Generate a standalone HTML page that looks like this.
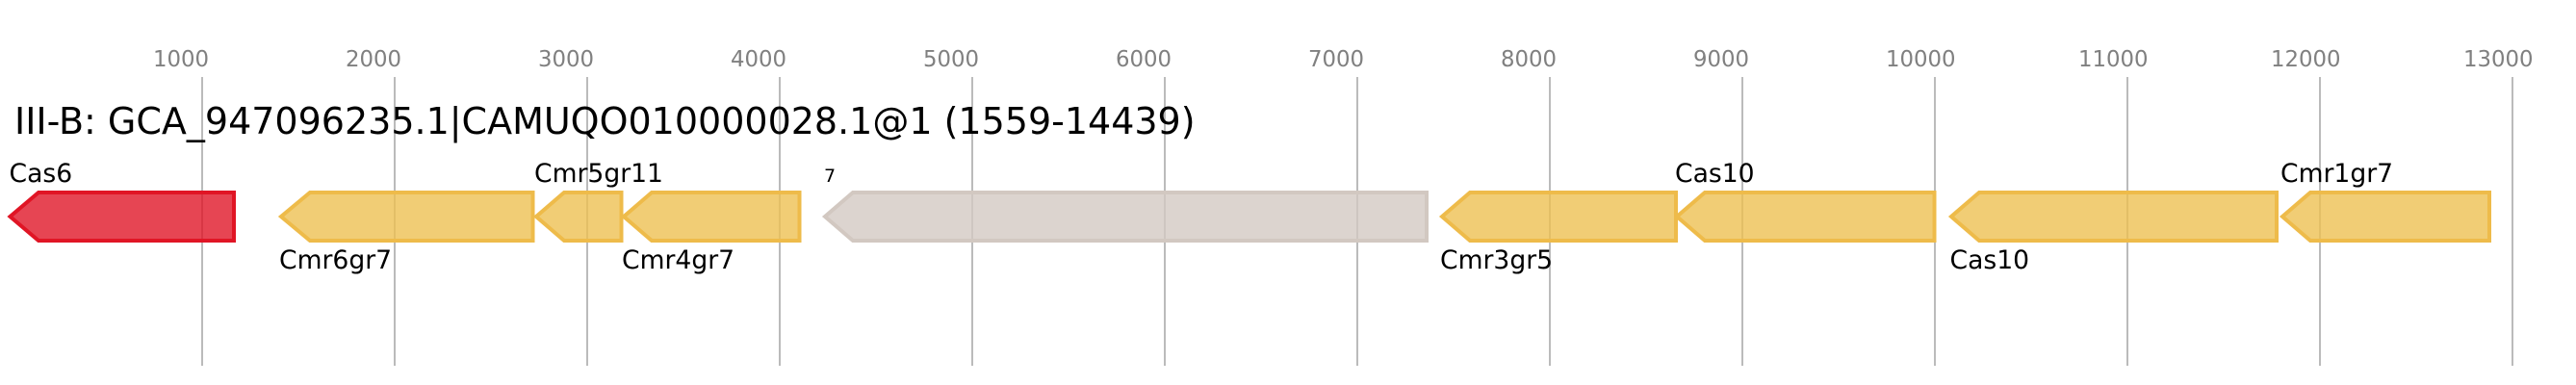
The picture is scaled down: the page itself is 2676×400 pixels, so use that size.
<!DOCTYPE html>
<html>
<head>
<meta charset="utf-8">
<style>
html,body{margin:0;padding:0;background:#fff;}
svg{display:block;}
text{font-family:"DejaVu Sans",sans-serif;}
.t{font-size:22.8px;fill:#808080;}
.l{font-size:26.6px;fill:#000;}
.g{stroke-width:4;stroke-linejoin:miter;stroke-miterlimit:10;}
.y{fill:#eec052;fill-opacity:.8;stroke:#eebb4a;}
.r{fill:#e01628;fill-opacity:.8;stroke:#e01525;}
.n{fill:#d3c9c3;fill-opacity:.8;stroke:#d2c8c1;}
</style>
</head>
<body>
<svg width="2676" height="400" viewBox="0 0 2676 400" xmlns="http://www.w3.org/2000/svg">
<rect width="2676" height="400" fill="#fff"/>
<g stroke="#bbbbbb" stroke-width="2">
<line x1="210" y1="80" x2="210" y2="380"/>
<line x1="410" y1="80" x2="410" y2="380"/>
<line x1="610" y1="80" x2="610" y2="380"/>
<line x1="810" y1="80" x2="810" y2="380"/>
<line x1="1010" y1="80" x2="1010" y2="380"/>
<line x1="1210" y1="80" x2="1210" y2="380"/>
<line x1="1410" y1="80" x2="1410" y2="380"/>
<line x1="1610" y1="80" x2="1610" y2="380"/>
<line x1="1810" y1="80" x2="1810" y2="380"/>
<line x1="2010" y1="80" x2="2010" y2="380"/>
<line x1="2210" y1="80" x2="2210" y2="380"/>
<line x1="2410" y1="80" x2="2410" y2="380"/>
<line x1="2610" y1="80" x2="2610" y2="380"/>
</g>
<g class="t">
<text x="159" y="69">1000</text>
<text x="359" y="69">2000</text>
<text x="559" y="69">3000</text>
<text x="759" y="69">4000</text>
<text x="959" y="69">5000</text>
<text x="1159" y="69">6000</text>
<text x="1359" y="69">7000</text>
<text x="1559" y="69">8000</text>
<text x="1759" y="69">9000</text>
<text x="1959" y="69">10000</text>
<text x="2159" y="69">11000</text>
<text x="2359" y="69">12000</text>
<text x="2559" y="69">13000</text>
</g>
<text x="15" y="139" font-size="38" fill="#000">III-B: GCA_947096235.1|CAMUQO010000028.1@1 (1559-14439)</text>
<polygon class="g r" points="243,200 40,200 10.500,225 40,250 243,250"/>
<polygon class="g y" points="553.500,200 322,200 292,225 322,250 553.500,250"/>
<polygon class="g y" points="645.500,200 586,200 557,225 586,250 645.500,250"/>
<polygon class="g y" points="830.500,200 677,200 648,225 677,250 830.500,250"/>
<polygon class="g n" points="1482,200 886,200 857,225 886,250 1482,250"/>
<polygon class="g y" points="1741,200 1527,200 1498,225 1527,250 1741,250"/>
<polygon class="g y" points="2009.500,200 1771,200 1742,225 1771,250 2009.500,250"/>
<polygon class="g y" points="2365,200 2056,200 2027,225 2056,250 2365,250"/>
<polygon class="g y" points="2586,200 2400,200 2371,225 2400,250 2586,250"/>
<g class="l">
<text x="9.500" y="189">Cas6</text>
<text x="290" y="279">Cmr6gr7</text>
<text x="555" y="189">Cmr5gr11</text>
<text x="646" y="279">Cmr4gr7</text>
<text x="856" y="189" style="font-size:19px">7</text>
<text x="1496" y="279">Cmr3gr5</text>
<text x="1740" y="189">Cas10</text>
<text x="2025.500" y="279">Cas10</text>
<text x="2369" y="189">Cmr1gr7</text>
</g>
</svg>
</body>
</html>
